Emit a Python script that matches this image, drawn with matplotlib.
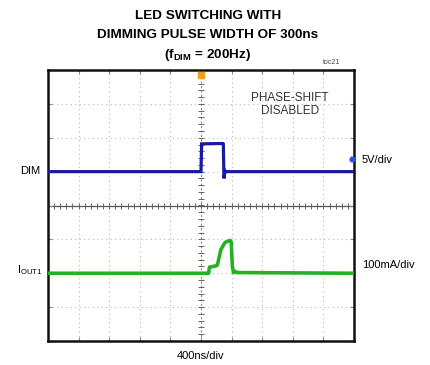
import numpy as np
import matplotlib
matplotlib.use("Agg")
import matplotlib.pyplot as plt

plt.rcParams['font.family'] = 'Liberation Sans'
plt.rcParams['mathtext.fontset'] = 'custom'
plt.rcParams['mathtext.rm'] = 'Liberation Sans'
plt.rcParams['mathtext.bf'] = 'Liberation Sans:bold'

# Scope settings
t_div = 400.0      # ns/div
dim_div = 5.0      # V/div
iout_div = 100.0   # mA/div

# DIM trace (ns, V)
dim_t = [-2000, 0, 8, 285, 292, 300, 314, 320, 2000]
dim_v = [0.0, 0.0, 4.1, 4.15, 4.1, -1.0, 0.1, 0.0, 0.0]

# IOUT1 trace (ns, mA)
iout_t = [-2000, 100, 110, 200, 215, 260, 315, 380, 395, 410, 425, 440, 470, 2000]
iout_ma = [0, 0, 18, 22, 25, 70, 91, 97, 92, 20, 2, 6, 2, 0]

dim_offset = 1.0    # div
iout_offset = -2.0  # div

fig = plt.figure(figsize=(4.3, 3.65), dpi=100)
ax = fig.add_axes([48/430, 1-341/365, 306/430, 271/365])
ax.set_xlim(-5, 5)
ax.set_ylim(-4, 4)

# graticule
for x in range(-4, 5):
    if x != 0:
        ax.axvline(x, color='#b8b8b8', lw=0.8, ls=(0, (1, 3)), zorder=1)
for y in range(-3, 4):
    if y != 0:
        ax.axhline(y, color='#b8b8b8', lw=0.8, ls=(0, (1, 3)), zorder=1)
ax.axvline(0, color='#888888', lw=0.8, ls=(0, (2, 2)), zorder=1)
ax.axhline(0, color='#555555', lw=0.9, zorder=1)
minor_x = np.arange(-5, 5.01, 0.2)
minor_y = np.arange(-4, 4.01, 0.2)
ax.plot(minor_x, np.zeros_like(minor_x), ls='none', marker='|', ms=4, color='#666666', mew=0.7, zorder=1)
ax.plot(np.zeros_like(minor_y), minor_y, ls='none', marker='_', ms=4, color='#666666', mew=0.7, zorder=1)

ax.set_xticks(range(-5, 6))
ax.set_yticks(range(-4, 5))
ax.tick_params(direction='in', length=3, color='#888888', top=True, right=True,
               labelbottom=False, labelleft=False)
for s in ax.spines.values():
    s.set_linewidth(1.8)
    s.set_color('#111111')

# traces
ax.plot(np.array(dim_t) / t_div, np.array(dim_v) / dim_div + dim_offset,
        color='#1a1aa0', lw=2.3, solid_joinstyle='miter', zorder=3)
ax.plot(np.array(iout_t) / t_div, np.array(iout_ma) / iout_div + iout_offset,
        color='#25b025', lw=2.6, zorder=3)

# markers
ax.plot([0], [3.85], marker='s', ms=4, color='#f0a020', clip_on=False, zorder=4)
ax.plot([4.95], [1.37], marker='o', ms=3.5, color='#3050e0', clip_on=False, zorder=4)

ax.text(2.9, 3.35, 'PHASE-SHIFT\nDISABLED', ha='center', va='top', fontsize=8.5,
        color='#333333', linespacing=1.1)

# titles and labels
fig.text(0.483, 0.955, 'LED SWITCHING WITH', ha='center', va='center', fontsize=9.7, weight='bold')
fig.text(0.483, 0.905, 'DIMMING PULSE WIDTH OF 300ns', ha='center', va='center', fontsize=9.7, weight='bold')
fig.text(0.483, 0.848, r'(f$_{\mathbf{DIM}}$ = 200Hz)', ha='center', va='center', fontsize=9.7, weight='bold')
fig.text(332/430, 1-62/365, 'toc21', ha='center', va='center', fontsize=5, color='#444444')

fig.text(30/430, 1-171/365, 'DIM', ha='center', va='center', fontsize=8)
fig.text(362/430, 1-160/365, '5V/div', ha='left', va='center', fontsize=8)
fig.text(30/430, 1-270/365, r'I$_{\mathrm{OUT1}}$', ha='center', va='center', fontsize=8)
fig.text(362/430, 1-265/365, '100mA/div', ha='left', va='center', fontsize=8)
fig.text(201/430, 1-356/365, '400ns/div', ha='center', va='center', fontsize=8)

fig.savefig('out.png', dpi=100)
